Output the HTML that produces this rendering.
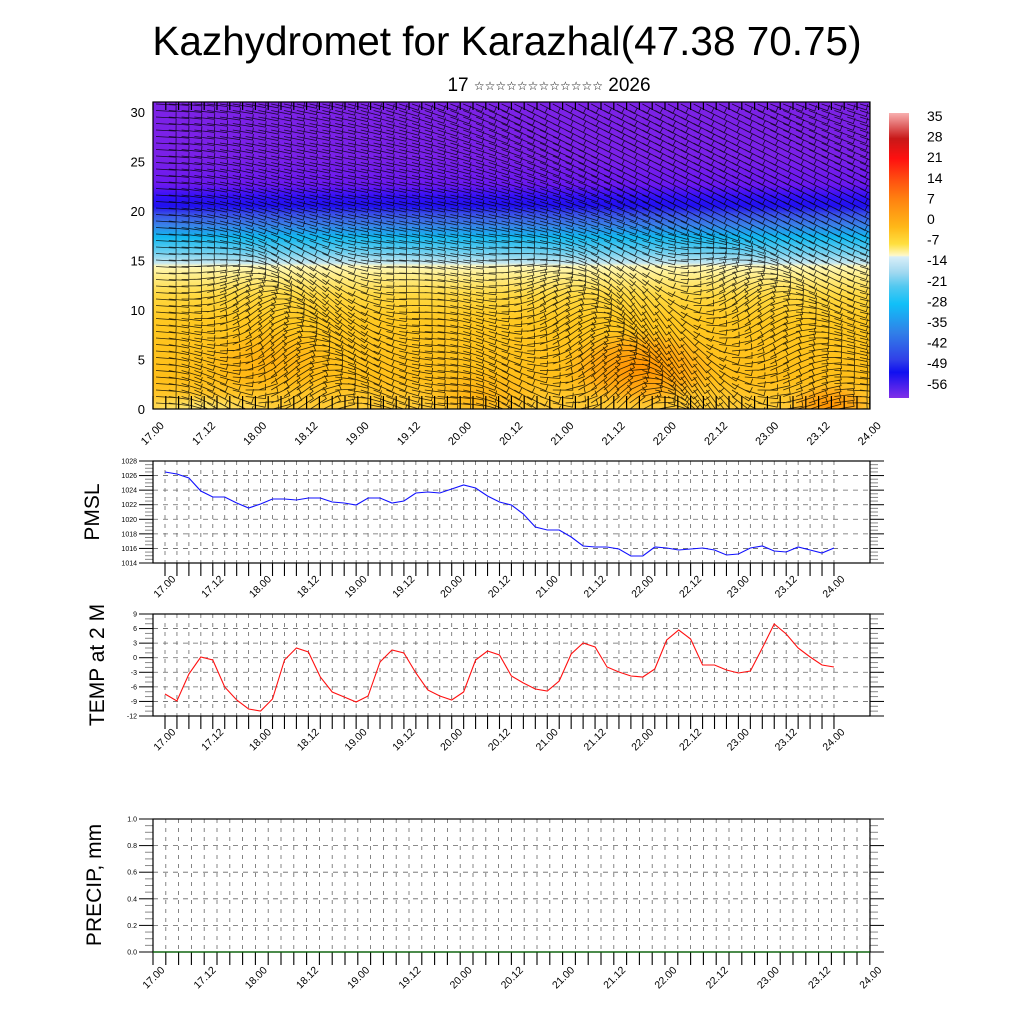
<!DOCTYPE html>
<html><head><meta charset="utf-8">
<style>
html,body{margin:0;padding:0;background:#fff;}
svg{display:block;font-family:"Liberation Sans","DejaVu Sans",sans-serif;}
</style></head>
<body>
<svg id="s" width="1024" height="1024" viewBox="0 0 1024 1024" xmlns="http://www.w3.org/2000/svg">
<defs>
<linearGradient id="tg" x1="0" y1="0" x2="0" y2="1">
<stop offset="0" stop-color="#7c22e6"/>
<stop offset="0.18" stop-color="#7a20e8"/>
<stop offset="0.27" stop-color="#6a18f0"/>
<stop offset="0.31" stop-color="#3010f8"/>
<stop offset="0.34" stop-color="#2010f0"/>
<stop offset="0.365" stop-color="#3a50e8"/>
<stop offset="0.40" stop-color="#3a80e8"/>
<stop offset="0.44" stop-color="#10b8f0"/>
<stop offset="0.49" stop-color="#70d0f0"/>
<stop offset="0.525" stop-color="#c8e8f0"/>
<stop offset="0.535" stop-color="#fff8b8"/>
<stop offset="0.56" stop-color="#fff090"/>
<stop offset="0.63" stop-color="#ffd840"/>
<stop offset="0.71" stop-color="#ffc820"/>
<stop offset="0.90" stop-color="#ffbe18"/>
<stop offset="1" stop-color="#ffcc38"/>
</linearGradient>
<radialGradient id="o1"><stop offset="0" stop-color="#ff9000"/><stop offset="0.6" stop-color="#ffa010" stop-opacity="0.7"/><stop offset="1" stop-color="#ffb020" stop-opacity="0"/></radialGradient>
<radialGradient id="o2"><stop offset="0" stop-color="#ffb010"/><stop offset="1" stop-color="#ffb010" stop-opacity="0"/></radialGradient>
<radialGradient id="y1"><stop offset="0" stop-color="#ffe870"/><stop offset="1" stop-color="#ffe870" stop-opacity="0"/></radialGradient>
<linearGradient id="cb" x1="0" y1="0" x2="0" y2="1">
<stop offset="0" stop-color="#f8b0b0"/>
<stop offset="0.09" stop-color="#c81818"/>
<stop offset="0.16" stop-color="#ff1010"/>
<stop offset="0.235" stop-color="#ff5010"/>
<stop offset="0.3" stop-color="#ff8010"/>
<stop offset="0.4" stop-color="#ffb818"/>
<stop offset="0.46" stop-color="#ffe040"/>
<stop offset="0.5" stop-color="#fff8c8"/>
<stop offset="0.505" stop-color="#d8eef8"/>
<stop offset="0.56" stop-color="#a0d8f0"/>
<stop offset="0.61" stop-color="#50c8f0"/>
<stop offset="0.67" stop-color="#10c0f8"/>
<stop offset="0.77" stop-color="#3080e8"/>
<stop offset="0.865" stop-color="#3040e8"/>
<stop offset="0.91" stop-color="#1010f0"/>
<stop offset="1" stop-color="#8030e8"/>
</linearGradient>
<clipPath id="tc"><rect x="153" y="102" width="717" height="307"/></clipPath>
</defs>
<text x="507" y="55" font-size="40.5" text-anchor="middle">Kazhydromet for Karazhal(47.38 70.75)</text>
<text x="549" y="91" font-size="19" text-anchor="middle">17 <tspan font-size="12" dy="-1">☆☆☆☆☆☆☆☆☆☆☆☆</tspan><tspan dy="1"> 2026</tspan></text>

<g clip-path="url(#tc)">
<rect x="153" y="102" width="717" height="307" fill="url(#tg)"/>
<ellipse cx="640" cy="368" rx="80" ry="40" fill="url(#o1)"/>
<ellipse cx="830" cy="405" rx="45" ry="22" fill="url(#o1)"/>
<ellipse cx="270" cy="360" rx="70" ry="35" fill="url(#o2)"/>
<ellipse cx="480" cy="395" rx="60" ry="25" fill="url(#o2)"/>
<ellipse cx="200" cy="408" rx="80" ry="14" fill="url(#y1)"/>
<g id="barbs" stroke="#000" stroke-width="0.8" stroke-opacity="0.8" fill="none"></g>
</g>
<rect x="153" y="102" width="717" height="307" fill="none" stroke="#000" stroke-width="1.2"/>
<rect x="889" y="113" width="20" height="285" fill="url(#cb)"/>
<g id="g" font-size="11"></g>
</svg>
<script>
var NS="http://www.w3.org/2000/svg",g=document.getElementById("g");
function el(t,a,p,txt){var e=document.createElementNS(NS,t);for(var k in a)e.setAttribute(k,a[k]);if(txt!==undefined)e.textContent=txt;(p||g).appendChild(e);return e;}
function ln(x1,y1,x2,y2,st,w,d,p){var a={x1:x1,y1:y1,x2:x2,y2:y2,stroke:st,"stroke-width":w};if(d)a["stroke-dasharray"]=d;return el("line",a,p);}
var cl=["35","28","21","14","7","0","-7","-14","-21","-28","-35","-42","-49","-56"];
for(var i=0;i<cl.length;i++)el("text",{x:927,y:121+i*20.6,"font-size":14},g,cl[i]);
for(var v=0;v<=30;v+=5){var y=409-v*9.9;el("text",{x:145,y:y+5,"font-size":13,"text-anchor":"end"},g,""+v);}
var days=["17","18","19","20","21","22","23","24"];
function xl(x0,step,n,ybase,fs,dx){for(var i=0;i<n;i++){var lab=days[Math.floor(i/2)]+(i%2?".12":".00");var cx=x0+i*step+dx;el("text",{x:cx,y:ybase,"font-size":fs,"text-anchor":"middle",transform:"rotate(-45 "+cx+" "+ybase+")"},g,lab);}}
xl(153,51.21,15,436,11,2);
var bg=document.getElementById("barbs");
function ang(x,y){var u=(x-153)/717,v=(409-y)/307;
 var w=Math.max(0,Math.min(1,(0.6-v)/0.25));
 var a=(0.35+0.15*Math.sin(u*6+v*4))*(1-w);
 a+=w*(0.1+0.9*Math.sin(u*22+v*7)*Math.sin(u*5+1.2));
 if(u<0.15) a=a*(u/0.15)+0.05*(1-u/0.15);
 return a;}
var s="";
for(var x=156;x<875;x+=12.8){for(var y=104;y<412;y+=6.5){var a=ang(x,y),L=20;var x2=x+L*Math.cos(a),y2=y+L*Math.sin(a);
 var bx=x2+6*Math.cos(a-1.6),by=y2+6*Math.sin(a-1.6);
 s+="M"+x.toFixed(1)+" "+y.toFixed(1)+"L"+x2.toFixed(1)+" "+y2.toFixed(1)+"L"+bx.toFixed(1)+" "+by.toFixed(1);}}
el("path",{d:s},bg);
for(var x=153;x<=870;x+=12.8)ln(x,396,x,409,"#000",1.2);
for(var x=153;x<=870;x+=12.8)ln(x,102,x,110,"#000",1.2);

function panel(top,bot,x0,xs,npts,ymin,ymax,major,minorN,fmt,labStep,labX0,labN,labY,labFs){
 var H=bot-top;
 function Y(v){return bot-(v-ymin)/(ymax-ymin)*H;}
 for(var v=ymin;v<=ymax+1e-9;v+=major){var y=Y(v);
  if(v>ymin&&v<ymax)ln(153,y,870,y,"#666",0.8,"5,5");
  ln(139,y,153,y,"#000",1);ln(870,y,884,y,"#000",1);
  el("text",{x:137,y:y+2.5,"font-size":7,"text-anchor":"end"},g,fmt(v));
  if(v<ymax-1e-9)for(var k=1;k<=minorN;k++){var yy=Y(v+major*k/(minorN+1));ln(145,yy,153,yy,"#888",1);ln(870,yy,878,yy,"#888",1);}
 }
 for(var i=0;i<npts;i++){var x=x0+i*xs;if(x>153&&x<870)ln(x,top,x,bot,"#666",0.8,"4,5");ln(x,bot,x,bot+13,"#000",1.1);}
 el("rect",{x:153,y:top,width:717,height:H,fill:"none",stroke:"#000","stroke-width":1.2});
 xl(labX0,labStep,labN,labY,labFs,2);
}
var pm=[472,474,478,491,497,497,503,508,504,499,499,500,498,498,502,503,505,498,498,503,501,493,492,493,489,485,488,496,502,505,514,527,530,530,537,546,547,547,549,556,556,547,548,550,549,548,550,555,554,548,546,551,552,547,550,553,548];
var tp=[694,701,674,657,660,687,700,709,711,699,660,648,652,677,692,697,702,696,662,650,653,673,690,696,700,692,660,651,655,676,683,689,691,681,654,643,647,667,672,676,677,669,640,630,639,665,665,670,673,671,648,624,634,648,657,665,667];
panel(461,563,165,11.946,57,1014,1028,2,3,function(v){return ""+v;},47.79,165,15,589,10.5);
panel(614,716,165,11.946,57,-12,9,3,2,function(v){return ""+v;},47.79,165,15,742,10.5);
function poly(arr,c){var p="";for(var i=0;i<arr.length;i++)p+=(165+i*11.946).toFixed(1)+","+arr[i]+" ";el("polyline",{points:p,fill:"none",stroke:c,"stroke-width":1.1});}
poly(pm,"#1010ff");poly(tp,"#ff1010");
panel(819,952,153,12.8,57,0,1,0.2,3,function(v){return v.toFixed(1);},51.21,154,15,980,10.5);
ln(153,952,870,952,"#060",1.2);
el("text",{x:0,y:0,"font-size":21,"text-anchor":"middle",transform:"translate(99 512) rotate(-90)"},g,"PMSL");
el("text",{x:0,y:0,"font-size":21,"text-anchor":"middle",transform:"translate(104 665) rotate(-90)"},g,"TEMP at 2 M");
el("text",{x:0,y:0,"font-size":21,"text-anchor":"middle",transform:"translate(101 885) rotate(-90)"},g,"PRECIP, mm");
</script>
</body></html>
